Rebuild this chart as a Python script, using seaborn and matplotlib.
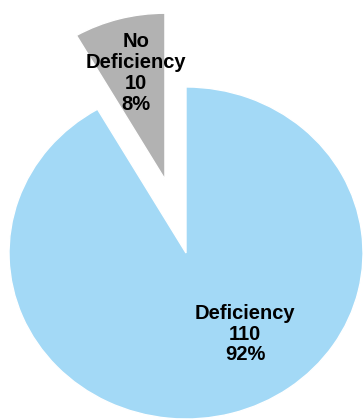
import matplotlib
matplotlib.use("Agg")
import matplotlib.pyplot as plt
import seaborn as sns

categories = ["Deficiency", "No Deficiency"]
counts = [110, 10]
percents = ["92%", "8%"]
colors = ["#A3D9F6", "#B2B2B2"]
explode = [0.0, 0.46]

sns.set_style("white")
plt.rcParams["font.family"] = ["Liberation Sans", "DejaVu Sans"]

fig = plt.figure(figsize=(3.63, 4.2), dpi=100)
ax = fig.add_axes([0, 0, 1, 1])
ax.pie(counts, colors=colors, explode=explode, startangle=90,
       counterclock=False, radius=1.0, frame=False)
ax.set_aspect("auto")
ax.set_xlim(-1.051, 1.0)
ax.set_ylim(-1.006, 1.524)
ax.axis("off")

label_pos = [(0.333, -0.488), (-0.282, 1.084)]
label_names = ["Deficiency", "No\nDeficiency"]
for (x, y), name, c, p in zip(label_pos, label_names, counts, percents):
    ax.text(x, y, f"{name}\n{c}\n{p}", ha="center", va="center",
            fontsize=14.5, fontweight="bold", linespacing=1.12, color="black")

fig.savefig("out.png", dpi=100)
